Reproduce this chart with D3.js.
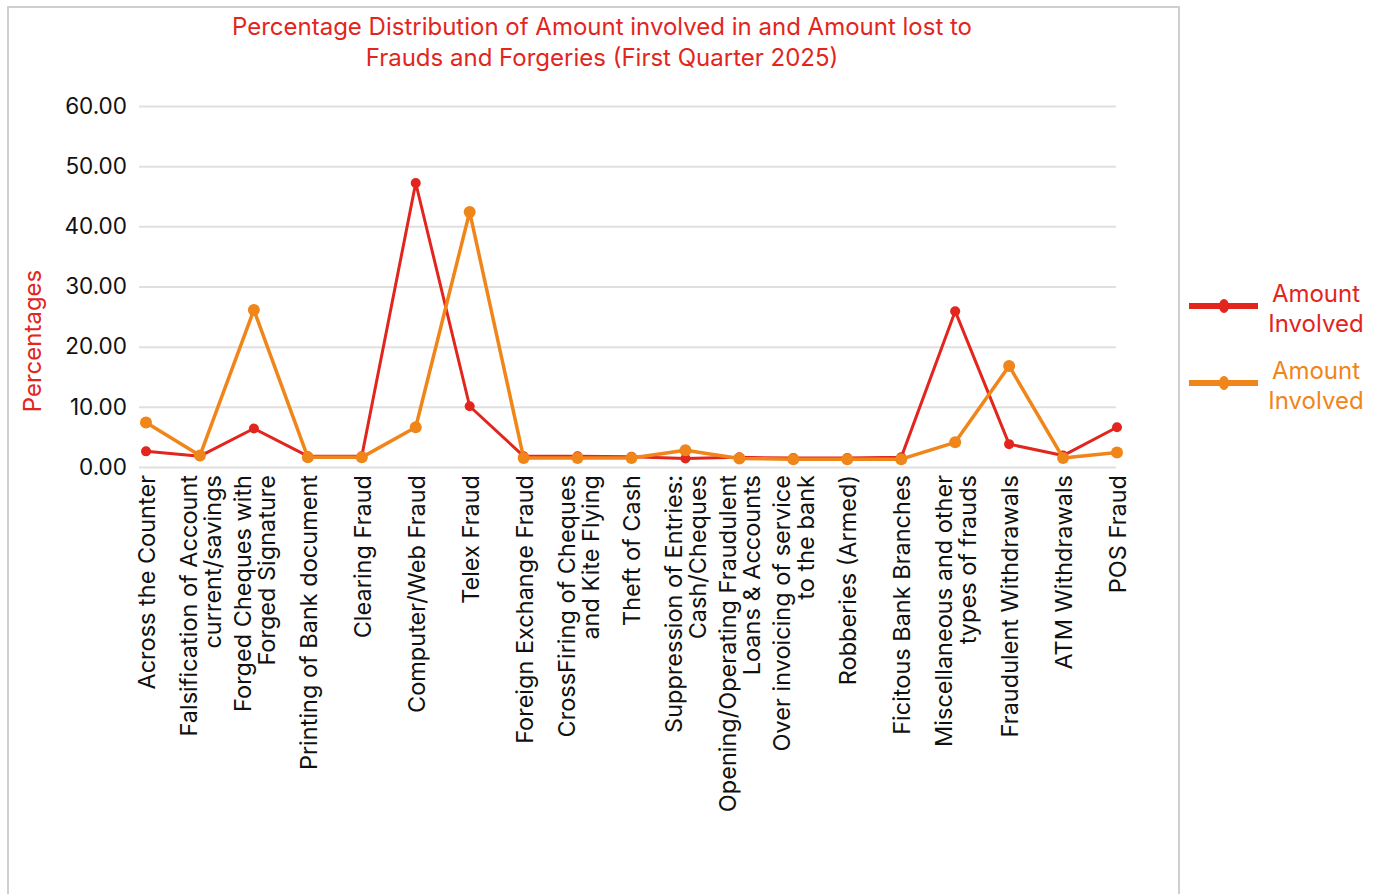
<!DOCTYPE html>
<html>
<head>
<meta charset="utf-8">
<script src="https://cdn.jsdelivr.net/npm/d3@7"></script>
<style>
  html, body { margin: 0; padding: 0; background: #ffffff; }
  svg { display: block; }
  text { font-family: Inter, "Noto Sans", sans-serif; }
</style>
</head>
<body>
<svg id="chart" width="1381" height="894"></svg>
<script>
// Fraud categories (line breaks mark wrapped axis labels)
const categories = [
  "Across the Counter",
  "Falsification of Account\ncurrent/savings",
  "Forged Cheques with\nForged Signature",
  "Printing of Bank document",
  "Clearing Fraud",
  "Computer/Web Fraud",
  "Telex Fraud",
  "Foreign Exchange Fraud",
  "CrossFiring of Cheques\nand Kite Flying",
  "Theft of Cash",
  "Suppression of Entries:\nCash/Cheques",
  "Opening/Operating Fraudulent\nLoans & Accounts",
  "Over invoicing of service\nto the bank",
  "Robberies (Armed)",
  "Ficitous Bank Branches",
  "Miscellaneous and other\ntypes of frauds",
  "Fraudulent Withdrawals",
  "ATM Withdrawals",
  "POS Fraud"
];

// Percentage shares per category
const amountInvolvedA = [2.6, 1.8, 6.4, 1.8, 1.8, 47.2, 10.1, 1.8, 1.8, 1.7, 1.4, 1.6, 1.5, 1.5, 1.6, 25.9, 3.8, 1.9, 6.6];
const amountInvolvedB = [7.4, 1.9, 26.1, 1.6, 1.6, 6.6, 42.4, 1.5, 1.5, 1.5, 2.8, 1.4, 1.3, 1.3, 1.3, 4.1, 16.8, 1.5, 2.4];

const seriesNames = ["Amount\nInvolved", "Amount\nInvolved"];
const yTicks = [0, 10, 20, 30, 40, 50, 60];

const titleLines = [
  "Percentage Distribution of Amount involved in and Amount lost to",
  "Frauds and Forgeries (First Quarter 2025)"
];
const yTitle = "Percentages";

const RED = "#e2251d";
const ORANGE = "#f0851a";

const svg = d3.select("#chart");

// Panel frame
svg.append("rect")
  .attr("x", 8).attr("y", 7)
  .attr("width", 1171).attr("height", 900)
  .attr("fill", "#ffffff")
  .attr("stroke", "#cfcfcf")
  .attr("stroke-width", 2);

const x = d3.scalePoint().domain(categories).range([146, 1117]);
const y = d3.scaleLinear().domain([0, 60]).range([467, 106]);

// Title
svg.append("text")
  .attr("x", 602).attr("y", 35)
  .attr("text-anchor", "middle")
  .attr("fill", RED)
  .attr("font-size", 24)
  .selectAll("tspan")
  .data(titleLines)
  .join("tspan")
  .attr("x", 602)
  .attr("dy", (d, i) => i === 0 ? 0 : 31)
  .text(d => d);

// Gridlines + y tick labels
const yAxis = d3.axisLeft(y)
  .tickValues(yTicks)
  .tickFormat(d3.format(".2f"))
  .tickSize(-(1116 - 139))
  .tickPadding(12);

const gy = svg.append("g")
  .attr("transform", "translate(139,0)")
  .call(yAxis);
gy.select(".domain").remove();
gy.selectAll(".tick line").attr("stroke", "#e0e0e0").attr("stroke-width", 2);
gy.selectAll(".tick text")
  .attr("fill", "#111")
  .attr("font-size", 22.5)
  .attr("font-family", "Inter, 'Noto Sans', sans-serif");

// Y title
svg.append("text")
  .attr("transform", "translate(41,341) rotate(-90)")
  .attr("text-anchor", "middle")
  .attr("fill", RED)
  .attr("font-size", 24)
  .text(yTitle);

// X axis labels (rotated, top-aligned under the plot)
const xAxis = d3.axisBottom(x).tickSize(0).tickFormat("");
const gx = svg.append("g").attr("transform", "translate(0,467)").call(xAxis);
gx.select(".domain").remove();

const lineGap = 24;
gx.selectAll(".tick").each(function(d) {
  const lines = d.split("\n");
  const t = d3.select(this).append("text")
    .attr("transform", "translate(0,8) rotate(-90)")
    .attr("text-anchor", "end")
    .attr("fill", "#111")
    .attr("font-size", 23.5);
  const off = -(lines.length - 1) * lineGap / 2;
  lines.forEach((ln, i) => {
    t.append("tspan")
      .attr("x", 0)
      .attr("y", off + i * lineGap)
      .attr("dy", "0.36em")
      .text(ln);
  });
});

// Series lines and markers
const series = [
  { values: amountInvolvedA, color: RED, width: 3, r: 5 },
  { values: amountInvolvedB, color: ORANGE, width: 3.5, r: 6 }
];

const line = d3.line()
  .x((d, i) => x(categories[i]))
  .y(d => y(d));

series.forEach(s => {
  svg.append("path")
    .datum(s.values)
    .attr("fill", "none")
    .attr("stroke", s.color)
    .attr("stroke-width", s.width)
    .attr("stroke-linejoin", "round")
    .attr("d", line);
  svg.append("g")
    .selectAll("circle")
    .data(s.values)
    .join("circle")
    .attr("cx", (d, i) => x(categories[i]))
    .attr("cy", d => y(d))
    .attr("r", s.r)
    .attr("fill", s.color);
});

// Legend
const legendY = [306, 383];
series.forEach((s, i) => {
  const g = svg.append("g").attr("transform", `translate(0,${legendY[i]})`);
  g.append("line")
    .attr("x1", 1189).attr("x2", 1258)
    .attr("y1", 0).attr("y2", 0)
    .attr("stroke", s.color)
    .attr("stroke-width", 6);
  g.append("ellipse")
    .attr("cx", 1224).attr("cy", 0)
    .attr("rx", 5).attr("ry", 7)
    .attr("fill", s.color);
  const t = g.append("text")
    .attr("text-anchor", "middle")
    .attr("fill", s.color)
    .attr("font-size", 24);
  seriesNames[i].split("\n").forEach((ln, j) => {
    t.append("tspan")
      .attr("x", 1316)
      .attr("y", -4.5 + j * 30)
      .text(ln);
  });
});
</script>
</body>
</html>
